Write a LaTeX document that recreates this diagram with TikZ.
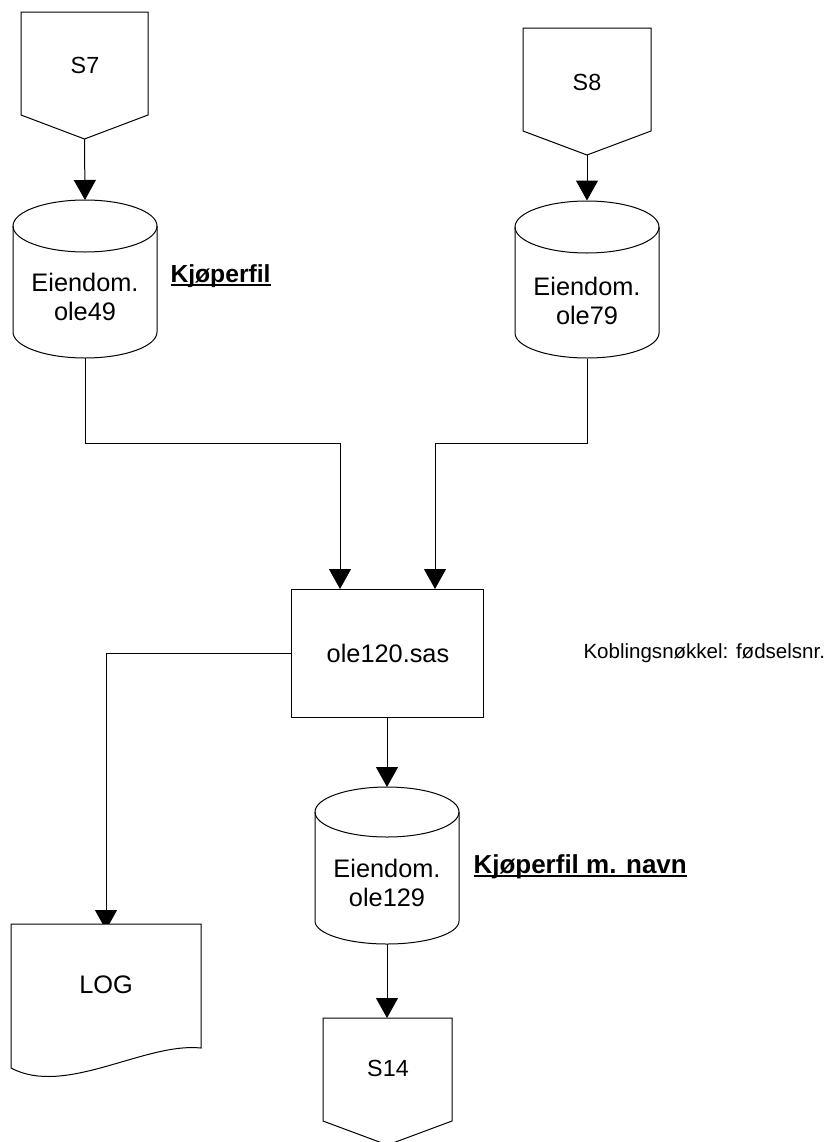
\documentclass[tikz,border=0pt]{standalone}
\usepackage{fontspec}
\setmainfont{Liberation Sans}
\usetikzlibrary{arrows.meta,calc}
\newcommand\boldul[1]{\setbox0\hbox{#1}\rlap{\rule[-2.6pt]{\wd0}{1.5pt}}\box0}
\begin{document}
\begin{tikzpicture}[x=0.75pt,y=-0.75pt,line width=0.75pt,
  frame/.style={draw=none,inner sep=0pt,outer sep=0pt},
  conn/.style={-{Triangle[length=15pt,width=16.5pt]}},
  shapeline/.style={draw=black,line width=0.75pt},
  big/.style={font=\fontsize{19}{21.75}\selectfont,align=center,inner sep=0pt},
  sym/.style={font=\fontsize{17.5}{20}\selectfont,inner sep=0pt},
  note/.style={font=\fontsize{15.4}{18}\selectfont,inner sep=0pt,anchor=west},
  tag/.style={font=\bfseries\fontsize{18.5}{21}\selectfont,inner sep=0pt,anchor=west}
]
\useasboundingbox (0,0) rectangle (833,1142);

% invisible frames carrying names
\node[frame,minimum width=95.25pt,minimum height=95.25pt] (s7) at (84.5,75.5) {};
\node[frame,minimum width=96pt,minimum height=95.25pt] (s8) at (587,91.5) {};
\node[frame,minimum width=108pt,minimum height=118.5pt] (c49) at (85,279) {};
\node[frame,minimum width=108pt,minimum height=118.5pt] (c79) at (587,279.5) {};
\node[frame,minimum width=144pt,minimum height=96pt] (box) at (387,653) {};
\node[frame,minimum width=108pt,minimum height=117.75pt] (c129) at (387,865.5) {};
\node[frame,minimum width=96.75pt,minimum height=95.25pt] (s14) at (387,1081.5) {};
\node[frame,minimum width=142.5pt,minimum height=116.25pt] (log) at (106,1001.5) {};

\coordinate (j1) at (340,443);
\coordinate (j2) at (435,443);

% connectors
\draw[conn] (s7.south) -- (c49.north);
\draw[conn] (s8.south) -- (c79.north);
\draw[conn] (c49.south) |- (j1) -- (j1 |- box.north);
\draw[conn] (c79.south) |- (j2) -- (j2 |- box.north);
\draw[conn] (box.south) -- (c129.north);
\draw[conn] (c129.south) -- (s14.north);
\draw[conn,shorten >=-4.5pt] (box.west) -| (log.north);

% off-page connectors
\draw[shapeline,fill=white] (21,12) -- (148,12) -- (148,115) -- (84.5,139) -- (21,115) -- cycle;
\draw[shapeline,fill=white] (523,28) -- (651,28) -- (651,131) -- (587,155) -- (523,131) -- cycle;
\draw[shapeline,fill=white] (323,1018) -- (452,1018) -- (452,1121) -- (387.5,1145) -- (323,1121) -- cycle;

% cylinders
\draw[shapeline,fill=white] (13,226) -- (13,332) arc[start angle=180,end angle=0,x radius=72,y radius=26] -- (157,226);
\draw[shapeline] (85,226) ellipse[x radius=72,y radius=26];
\draw[shapeline,fill=white] (515,227) -- (515,333) arc[start angle=180,end angle=0,x radius=72,y radius=25] -- (659,227);
\draw[shapeline] (587,227) ellipse[x radius=72,y radius=26];
\draw[shapeline,fill=white] (315,812) -- (315,921) arc[start angle=180,end angle=0,x radius=72,y radius=23] -- (459,812);
\draw[shapeline] (387,812) ellipse[x radius=72,y radius=25];

% process box
\draw[shapeline] (box.north west) rectangle (box.south east);

% document
\draw[shapeline,fill=white] (11,924) -- (201,924) -- (201,1048)
  .. controls (145,1042) and (65,1097) .. (11,1068) -- cycle;

% texts
\node[sym] at (85,65) {S7};
\node[sym] at (587,82) {S8};
\node[sym] at (388,1068) {S14};
\node[big] at (85,297) {Eiendom.\\ole49};
\node[big] at (587,301) {Eiendom.\\ole79};
\node[big] at (387,883) {Eiendom.\\ole129};
\node[big] at (388,653) {ole120.sas};
\node[big] at (106,985) {LOG};
\node[note] at (583,653) {Koblingsnøkkel: fødselsnr.};
\node[tag] at (170,276) {\boldul{Kjøperfil}};
\node[tag,font=\bfseries\fontsize{19.5}{22}\selectfont] at (473,867) {\boldul{Kjøperfil m. navn}};
\end{tikzpicture}
\end{document}
